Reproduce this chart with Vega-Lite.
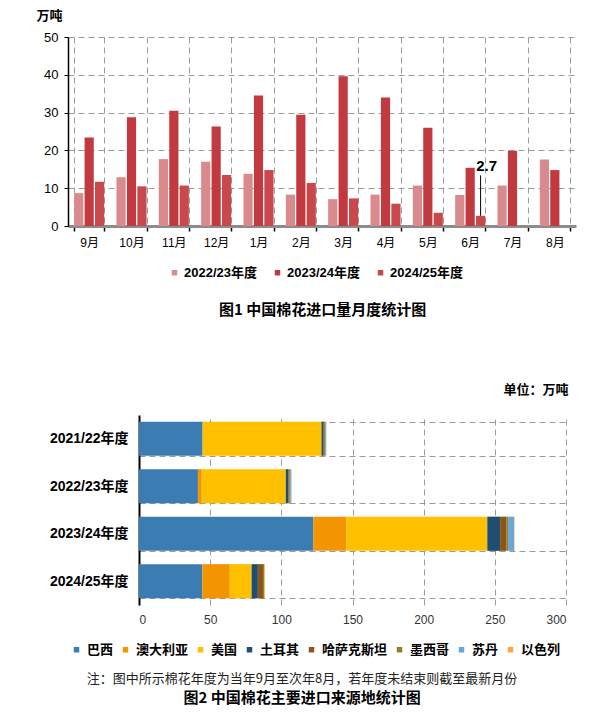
{
  "$schema": "https://vega.github.io/schema/vega-lite/v6.json",
  "padding": {"left": 36, "top": 9, "right": 10, "bottom": 5},
  "background": "white",
  "spacing": 65,
  "columns": 1,
  "resolve": {"scale": {"color": "independent"}, "legend": {"color": "independent"}},
  "config": {
    "view": {"stroke": null},
    "font": "Noto Sans CJK SC",
    "axis": {"gridDash": [6, 4], "gridColor": "#9a9a9a", "gridWidth": 1, "labelOverlap": false},
    "legend": {"symbolType": "square", "symbolSize": 30, "labelFont": "Liberation Sans, Noto Sans CJK SC", "labelFontWeight": "bold", "labelColor": "#000", "title": null}
  },
  "concat": [
    {
      "width": 437,
      "height": 189,
      "title": {"text": "图1  中国棉花进口量月度统计图", "orient": "bottom", "frame": "group", "anchor": "middle", "dx": -35, "font": "Noto Sans CJK SC", "fontSize": 15, "fontWeight": "bold", "color": "#000", "offset": 23},
      "data": {"values": [
        {"month": "9月", "season": "2022/23年度", "value": 8.7},
        {"month": "9月", "season": "2023/24年度", "value": 23.4},
        {"month": "9月", "season": "2024/25年度", "value": 11.7},
        {"month": "10月", "season": "2022/23年度", "value": 12.9},
        {"month": "10月", "season": "2023/24年度", "value": 28.8},
        {"month": "10月", "season": "2024/25年度", "value": 10.5},
        {"month": "11月", "season": "2022/23年度", "value": 17.7},
        {"month": "11月", "season": "2023/24年度", "value": 30.5},
        {"month": "11月", "season": "2024/25年度", "value": 10.7},
        {"month": "12月", "season": "2022/23年度", "value": 17.0},
        {"month": "12月", "season": "2023/24年度", "value": 26.3},
        {"month": "12月", "season": "2024/25年度", "value": 13.5},
        {"month": "1月", "season": "2022/23年度", "value": 13.8},
        {"month": "1月", "season": "2023/24年度", "value": 34.5},
        {"month": "1月", "season": "2024/25年度", "value": 14.8},
        {"month": "2月", "season": "2022/23年度", "value": 8.3},
        {"month": "2月", "season": "2023/24年度", "value": 29.4},
        {"month": "2月", "season": "2024/25年度", "value": 11.4},
        {"month": "3月", "season": "2022/23年度", "value": 7.1},
        {"month": "3月", "season": "2023/24年度", "value": 39.6},
        {"month": "3月", "season": "2024/25年度", "value": 7.3},
        {"month": "4月", "season": "2022/23年度", "value": 8.3},
        {"month": "4月", "season": "2023/24年度", "value": 34.0},
        {"month": "4月", "season": "2024/25年度", "value": 5.9},
        {"month": "5月", "season": "2022/23年度", "value": 10.7},
        {"month": "5月", "season": "2023/24年度", "value": 26.0},
        {"month": "5月", "season": "2024/25年度", "value": 3.5},
        {"month": "6月", "season": "2022/23年度", "value": 8.2},
        {"month": "6月", "season": "2023/24年度", "value": 15.4},
        {"month": "6月", "season": "2024/25年度", "value": 2.7, "label": "2.7"},
        {"month": "7月", "season": "2022/23年度", "value": 10.7},
        {"month": "7月", "season": "2023/24年度", "value": 19.9},
        {"month": "8月", "season": "2022/23年度", "value": 17.6},
        {"month": "8月", "season": "2023/24年度", "value": 14.8}
      ]},
      "encoding": {
        "x": {"field": "month", "type": "nominal", "sort": ["9月","10月","11月","12月","1月","2月","3月","4月","5月","6月","7月","8月"],
              "scale": {"range": [-71, 437], "paddingInner": 0.29, "paddingOuter": 0.145},
              "axis": {"title": null, "labelAngle": 0, "tickBand": "extent", "grid": true, "domainColor": "#8c8c8c", "domainWidth": 3, "tickColor": "#000", "tickSize": 5, "tickWidth": 1.5, "labelFont": "Liberation Sans, Noto Sans CJK SC", "labelFontSize": 12, "labelColor": "#000", "labelPadding": 6}},
        "xOffset": {"field": "season", "sort": ["2022/23年度","2023/24年度","2024/25年度"], "scale": {"paddingInner": 0.12, "paddingOuter": 0}},
        "y": {"field": "value", "type": "quantitative", "scale": {"domain": [0, 50]},
              "axis": {"values": [0,10,20,30,40,50], "offset": 71, "labelOverlap": false, "title": "万吨", "titleAngle": 0, "titleX": -32, "titleY": -22, "titleAlign": "left", "titleBaseline": "middle", "titleFont": "Noto Sans CJK SC", "titleFontSize": 13, "titleFontWeight": "bold", "titleColor": "#000",
                       "labelFont": "Liberation Sans", "labelFontSize": 13, "labelColor": "#000", "labelPadding": 6, "domainColor": "#000", "domainWidth": 1.5, "tickColor": "#000", "tickSize": 4, "grid": true}}
      },
      "layer": [
        {
          "mark": {"type": "bar"},
          "encoding": {
            "color": {"field": "season", "type": "nominal", "sort": ["2022/23年度","2023/24年度","2024/25年度"],
                      "scale": {"domain": ["2022/23年度","2023/24年度","2024/25年度"], "range": ["#d98a8c", "#c03a3f", "#c9484c"]},
                      "legend": {"orient": "none", "direction": "horizontal", "legendX": 29, "legendY": 229, "labelFontSize": 13, "columnPadding": 14, "labelOffset": 3}}
          }
        },
        {
          "transform": [{"filter": "datum.label"}],
          "mark": {"type": "rule", "color": "#000", "strokeWidth": 1},
          "encoding": {
            "y2": {"datum": 13.4}
          }
        },
        {
          "transform": [{"filter": "datum.label"}],
          "mark": {"type": "text", "font": "Liberation Sans", "fontSize": 15, "fontWeight": "bold", "baseline": "bottom", "dx": 6, "dy": -42, "color": "#000"},
          "encoding": {
            "text": {"field": "label"}
          }
        }
      ]
    },
    {
      "width": 427,
      "height": 190,
      "title": {"text": "注：图中所示棉花年度为当年9月至次年8月，若年度未结束则截至最新月份", "subtitle": "图2  中国棉花主要进口来源地统计图",
                "orient": "bottom", "frame": "bounds", "anchor": "middle", "font": "Noto Sans CJK SC", "fontSize": 13, "fontWeight": "normal", "color": "#222",
                "subtitleFont": "Noto Sans CJK SC", "subtitleFontSize": 15, "subtitleFontWeight": "bold", "subtitleColor": "#000", "subtitlePadding": 5, "offset": 16},
      "data": {"values": [
        {"year": "2021/22年度", "country": "巴西", "rank": 1, "value": 44.7},
        {"year": "2021/22年度", "country": "美国", "rank": 3, "value": 83.5},
        {"year": "2021/22年度", "country": "土耳其", "rank": 4, "value": 1.2},
        {"year": "2021/22年度", "country": "哈萨克斯坦", "rank": 5, "value": 0.6},
        {"year": "2021/22年度", "country": "墨西哥", "rank": 6, "value": 0.8},
        {"year": "2021/22年度", "country": "苏丹", "rank": 7, "value": 0.8},
        {"year": "2022/23年度", "country": "巴西", "rank": 1, "value": 41.4},
        {"year": "2022/23年度", "country": "澳大利亚", "rank": 2, "value": 2.7},
        {"year": "2022/23年度", "country": "美国", "rank": 3, "value": 59.0},
        {"year": "2022/23年度", "country": "土耳其", "rank": 4, "value": 1.8},
        {"year": "2022/23年度", "country": "哈萨克斯坦", "rank": 5, "value": 0.6},
        {"year": "2022/23年度", "country": "墨西哥", "rank": 6, "value": 0.8},
        {"year": "2022/23年度", "country": "苏丹", "rank": 7, "value": 0.8},
        {"year": "2023/24年度", "country": "巴西", "rank": 1, "value": 122.5},
        {"year": "2023/24年度", "country": "澳大利亚", "rank": 2, "value": 23.2},
        {"year": "2023/24年度", "country": "美国", "rank": 3, "value": 99.0},
        {"year": "2023/24年度", "country": "土耳其", "rank": 4, "value": 9.0},
        {"year": "2023/24年度", "country": "哈萨克斯坦", "rank": 5, "value": 4.3},
        {"year": "2023/24年度", "country": "墨西哥", "rank": 6, "value": 1.3},
        {"year": "2023/24年度", "country": "苏丹", "rank": 7, "value": 4.2},
        {"year": "2023/24年度", "country": "以色列", "rank": 8, "value": 0.3},
        {"year": "2024/25年度", "country": "巴西", "rank": 1, "value": 44.5},
        {"year": "2024/25年度", "country": "澳大利亚", "rank": 2, "value": 19.3},
        {"year": "2024/25年度", "country": "美国", "rank": 3, "value": 15.3},
        {"year": "2024/25年度", "country": "土耳其", "rank": 4, "value": 4.4},
        {"year": "2024/25年度", "country": "哈萨克斯坦", "rank": 5, "value": 3.6},
        {"year": "2024/25年度", "country": "墨西哥", "rank": 6, "value": 0.9},
        {"year": "2024/25年度", "country": "以色列", "rank": 8, "value": 0.4}
      ]},
      "mark": {"type": "bar"},
      "encoding": {
        "y": {"field": "year", "type": "nominal", "sort": ["2021/22年度","2022/23年度","2023/24年度","2024/25年度"],
              "scale": {"paddingInner": 0.28, "paddingOuter": 0.14},
              "axis": {"title": "单位：万吨", "titleAngle": 0, "titleX": 364, "titleY": -26, "titleAlign": "left", "titleBaseline": "middle", "titleFont": "Noto Sans CJK SC", "titleFontSize": 13, "titleFontWeight": "bold", "titleColor": "#000",
                       "tickBand": "extent", "grid": true, "ticks": false, "domainColor": "#000", "domainWidth": 2, "labelFont": "Liberation Sans, Noto Sans CJK SC", "labelFontSize": 14, "labelFontWeight": "bold", "labelColor": "#000", "labelPadding": 11, "minExtent": 103}},
        "x": {"field": "value", "type": "quantitative", "stack": "zero", "scale": {"domain": [0, 300]},
              "axis": {"values": [0,50,100,150,200,250,300], "title": null, "grid": true, "ticks": false, "domain": false, "labelFont": "Liberation Sans", "labelFontSize": 12, "labelColor": "#333", "labelPadding": 9}},
        "order": {"field": "rank", "type": "quantitative", "sort": "ascending"},
        "color": {"field": "country", "type": "nominal", "sort": ["巴西","澳大利亚","美国","土耳其","哈萨克斯坦","墨西哥","苏丹","以色列"],
                  "scale": {"domain": ["巴西","澳大利亚","美国","土耳其","哈萨克斯坦","墨西哥","苏丹","以色列"], "range": ["#3b7db2", "#f39500", "#ffc000", "#1f4e72", "#8a5518", "#9a7c22", "#6aa7d8", "#f7a940"]},
                  "legend": {"orient": "none", "direction": "horizontal", "columns": 8, "legendX": -69, "legendY": 228, "labelFontSize": 13, "columnPadding": 5, "labelOffset": 4}}
      }
    }
  ]
}
